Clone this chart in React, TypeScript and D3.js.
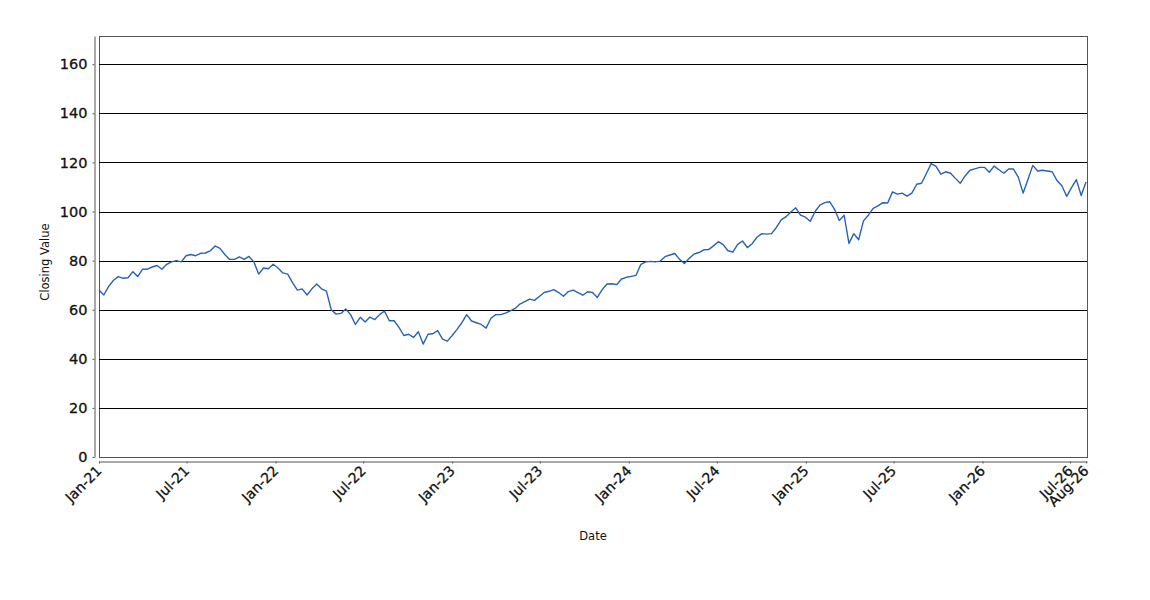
import React, { useEffect, useRef } from 'react'
import { scaleLinear, scaleTime, select, axisBottom, axisLeft, line, timeDay } from 'd3'

// closing values, one every 10 days from Jan 1 2021
const START_DATE = new Date(2021, 0, 1)
const STEP_DAYS = 10
const END_DATE = new Date(2026, 7, 5)

const closingValues: number[] = [
    68, 66, 69.5, 72, 73.5, 72.8, 73, 75.5, 73.5, 76.5,
    76.5, 77.4, 78, 76.5, 78.5, 79.5, 80, 79.5, 82, 82.5,
    82, 83, 83.1, 84, 86, 85, 82.5, 80.5, 80.5, 81.5,
    80.5, 81.7, 79.5, 74.5, 77, 76.7, 78.5, 77, 75, 74.5,
    71, 68,
    68.5, 66, 68.5, 70.5, 68.5, 67.6, 60, 58.2, 58.5, 60.3,
    58, 54, 56.9, 55, 57, 56, 58, 59.5, 55.5, 55.5,
    52.8, 49.5, 50, 48.7, 51, 46, 50, 50.2, 51.5, 48,
    47.2, 49.5, 52, 54.7, 58, 55.4, 54.7, 54, 52.5, 56.5,
    58,
    58, 58.6, 59.5, 60.5, 62.3, 63.3, 64.3, 63.8, 65.4, 67,
    67.5, 68.2, 67, 65.5, 67.4, 68, 67, 65.9, 67.3, 67,
    65, 68.2, 70.5, 70.6, 70.2, 72.5, 73.2, 73.6, 74, 78.5,
    79.5, 79.7, 79.5, 79.8, 81.6, 82.3, 82.9, 80.5, 78.8, 81,
    82.7, 83.3,
    84.4, 84.5, 86, 87.7, 86.5, 84, 83.5, 86.6, 88, 85.3,
    86.9, 89.5, 91, 90.8, 91, 93.5, 96.6, 97.9, 99.8, 101.5,
    98.5, 97.7, 96, 100, 102.6, 103.6, 104, 101, 96.3, 98.5,
    87, 91, 88.5, 96.2, 98.5, 101.3, 102.3, 103.6, 103.5, 108,
    107.1,
    107.5, 106.3, 107.5, 111.1, 111.5, 115.5, 119.5, 118.4, 115.2, 116.2,
    115.6, 113.5, 111.5, 114.5, 116.8, 117.4, 118, 118, 116, 118.5,
    117, 115.6, 117.3, 117.3, 114, 107.5, 113, 118.8, 116.5, 116.8,
    116.5, 116.2, 112.6, 110.5, 106.2, 109.7, 113, 106.5, 112,
]

const yTicks = [0, 20, 40, 60, 80, 100, 120, 140, 160]

const xTickDates = [
    new Date(2021, 0, 1), new Date(2021, 6, 1),
    new Date(2022, 0, 1), new Date(2022, 6, 1),
    new Date(2023, 0, 1), new Date(2023, 6, 1),
    new Date(2024, 0, 1), new Date(2024, 6, 1),
    new Date(2025, 0, 1), new Date(2025, 6, 1),
    new Date(2026, 0, 1), new Date(2026, 6, 1),
    new Date(2026, 7, 3),
]
const xTickLabels = [
    'Jan-21', 'Jul-21', 'Jan-22', 'Jul-22', 'Jan-23', 'Jul-23', 'Jan-24',
    'Jul-24', 'Jan-25', 'Jul-25', 'Jan-26', 'Jul-26', 'Aug-26',
]

const FONT = "'DejaVu Sans', sans-serif"

const App = () => {
    const chartRef = useRef<SVGSVGElement>(null)

    useEffect(() => {
        const width = 1150
        const height = 600
        const plot = { left: 99, right: 1087, top: 36, bottom: 457 }

        const data = closingValues.map((v, i) => ({
            date: timeDay.offset(START_DATE, i * STEP_DAYS),
            value: v,
        }))

        const x = scaleTime().domain([START_DATE, END_DATE]).range([plot.left, plot.right])
        const y = scaleLinear().domain([0, 171.5]).range([plot.bottom, plot.top])

        const svg = select(chartRef.current)
        svg.selectAll('*').remove()
        svg.attr('width', width).attr('height', height)

        svg.append('rect')
            .attr('width', width).attr('height', height)
            .attr('fill', '#fff')

        // plot frame
        svg.append('rect')
            .attr('x', plot.left + 0.5).attr('y', plot.top + 0.5)
            .attr('width', plot.right - plot.left).attr('height', plot.bottom - plot.top)
            .attr('fill', '#fff')
            .attr('stroke', '#555')

        // horizontal grid
        svg.append('g')
            .selectAll('line')
            .data(yTicks.filter(t => t > 0))
            .enter()
            .append('line')
            .attr('x1', plot.left).attr('x2', plot.right)
            .attr('y1', d => Math.round(y(d)) + 0.5)
            .attr('y2', d => Math.round(y(d)) + 0.5)
            .attr('stroke', '#000')
            .attr('stroke-width', 1)

        const path = line<{ date: Date, value: number }>()
            .x(d => x(d.date))
            .y(d => y(d.value))

        svg.append('path')
            .datum(data)
            .attr('d', path)
            .attr('fill', 'none')
            .attr('stroke', '#2a62b2')
            .attr('stroke-width', 1.4)
            .attr('stroke-linejoin', 'round')

        // y axis
        const yAxis = svg.append('g')
            .attr('transform', 'translate(94.5, 0)')
            .call(axisLeft(y).tickValues(yTicks).tickSize(2).tickSizeOuter(0).tickPadding(5))
        yAxis.select('.domain').attr('stroke', '#555')
        yAxis.selectAll('.tick line').attr('stroke', '#555')
        yAxis.selectAll('text')
            .style('font-family', FONT)
            .style('font-size', '14.5px')
            .attr('fill', '#111')
            .attr('stroke', '#111')
            .attr('stroke-width', 0.3)

        // x axis
        const xAxis = svg.append('g')
            .attr('transform', 'translate(0, 461.5)')
            .call(axisBottom(x).tickValues(xTickDates).tickSize(2).tickSizeOuter(0)
                .tickFormat((_, i) => xTickLabels[i]))
        xAxis.select('.domain').attr('stroke', '#555')
        xAxis.selectAll('.tick line').attr('stroke', '#555')
        xAxis.selectAll('text')
            .style('font-family', FONT)
            .style('font-size', '14px')
            .attr('fill', '#111')
            .attr('stroke', '#111')
            .attr('stroke-width', 0.3)
            .attr('text-anchor', 'end')
            .attr('x', 0)
            .attr('y', 0)
            .attr('dy', '0.72em')
            .attr('transform', 'translate(-4, 3) rotate(-45)')

        svg.append('text')
            .attr('transform', `translate(49, 262) rotate(-90)`)
            .attr('text-anchor', 'middle')
            .style('font-family', FONT)
            .style('font-size', '11.5px')
            .attr('fill', '#111')
            .text('Closing Value')

        svg.append('text')
            .attr('x', (plot.left + plot.right) / 2)
            .attr('y', 540)
            .attr('text-anchor', 'middle')
            .style('font-family', FONT)
            .style('font-size', '11.5px')
            .attr('fill', '#111')
            .text('Date')
    }, [chartRef])

    return (
        <svg ref={chartRef} style={{ position: 'absolute', left: 0, top: 0, display: 'block' }} />
    )
}

export default App
